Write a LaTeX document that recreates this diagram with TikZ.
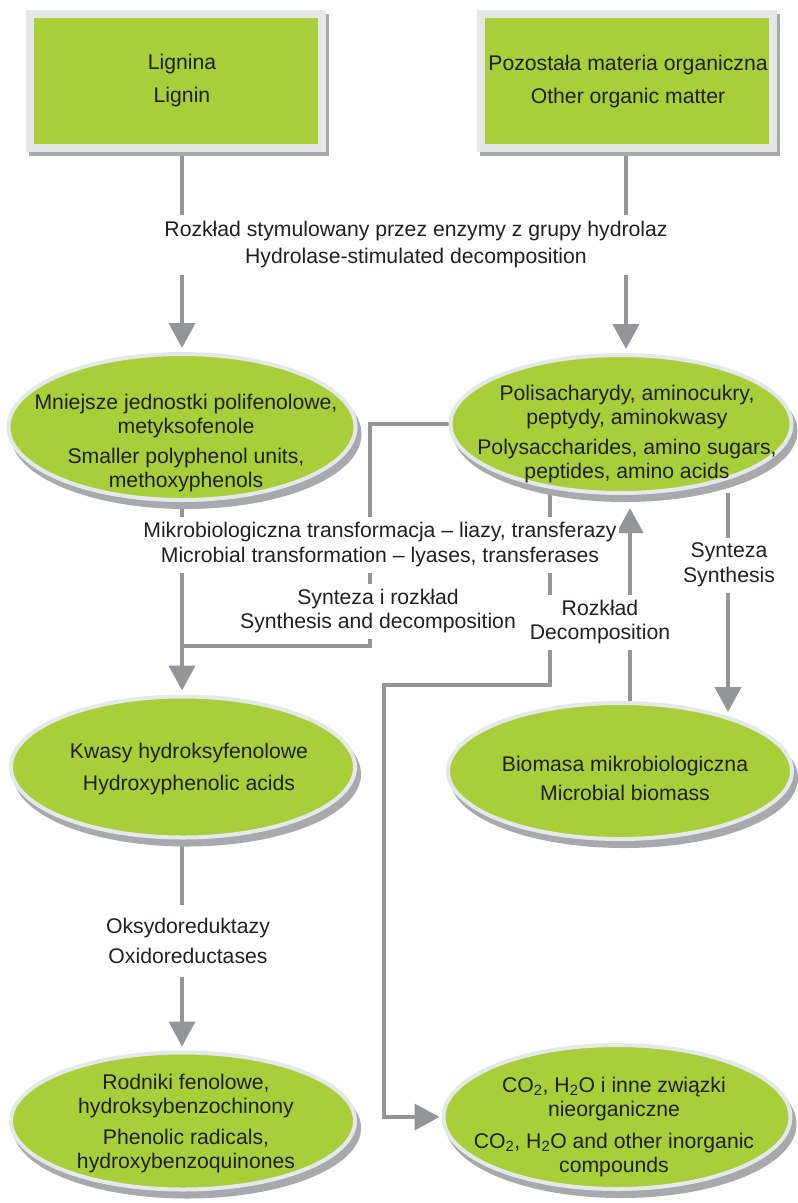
\documentclass[tikz,border=0pt]{standalone}
\usepackage{fontspec}
\setmainfont{Liberation Sans}
\usetikzlibrary{arrows.meta,calc,shapes.geometric}
\definecolor{leaf}{HTML}{A8CE3A}
\definecolor{rimgray}{HTML}{E6E7E8}
\definecolor{shadowgray}{HTML}{A7A9AC}
\definecolor{wire}{HTML}{939598}
\definecolor{ink}{HTML}{231F20}
\newcommand\fs{\fontsize{21.2pt}{24pt}\selectfont}
\pgfdeclarelayer{bg}
\pgfsetlayers{bg,main}
\begin{document}
\begin{tikzpicture}[x=1pt,y=-1pt,
  box/.style={rectangle, minimum width=292pt, minimum height=134pt, inner sep=0pt, outer sep=0pt,
    fill=leaf, draw=rimgray, line width=8pt,
    preaction={draw=shadowgray, line width=8pt, transform canvas={shift={(3pt,-4pt)}}}},
  blob/.style={ellipse, minimum width=344pt, inner sep=0pt, outer sep=0pt,
    fill=leaf, draw=rimgray, line width=4pt,
    preaction={fill=shadowgray, draw=shadowgray, line width=4pt, transform canvas={shift={(4pt,-7pt)}}}},
  txt/.style={font=\fs, text=ink, align=center, inner sep=0pt},
  lbl/.style={txt, fill=white, inner xsep=2pt},
  conn/.style={draw=wire, line width=4pt},
  arr/.style={conn, -{Triangle[width=26pt,length=25pt]}, shorten >=#1},
  arr/.default=4pt
]
\useasboundingbox (0,0) rectangle (798,1203);

% boxes
\node[box] (lig) at (176,81) {};
\node[box] (oom) at (627,81) {};
\node[txt] (tlig) at (182,81) {Lignina\\[9pt]Lignin};
\node[txt] (toom) at (628,82) {Pozostała materia organiczna\\[9pt]Other organic matter};

% ellipses
\node[blob, minimum width=347pt, minimum height=146pt] (e1) at (182,427) {};
\node[blob, minimum width=341pt, minimum height=138pt] (e2) at (621,424) {};
\node[blob, minimum height=141pt] (e3) at (183,767) {};
\node[blob, minimum height=136pt] (e4) at (620,771) {};
\node[blob, minimum height=137pt] (e5) at (183,1121) {};
\node[blob, minimum width=347pt, minimum height=144pt] (e6) at (617,1117) {};

\node[txt] (t1) at (186,443) {Mniejsze jednostki polifenolowe,\\metyksofenole\\[6pt]Smaller polyphenol units,\\methoxyphenols};
\node[txt] (t2) at (627,434) {Polisacharydy, aminocukry,\\peptydy, aminokwasy\\[6pt]Polysaccharides, amino sugars,\\peptides, amino acids};
\node[txt] (t3) at (189,769) {Kwasy hydroksyfenolowe\\[8pt]Hydroxyphenolic acids};
\node[txt] (t4) at (625,778) {Biomasa mikrobiologiczna\\[5pt]Microbial biomass};
\node[txt] (t5) at (186,1124) {Rodniki fenolowe,\\hydroksybenzochinony\\[7pt]Phenolic radicals,\\hydroxybenzoquinones};
\node[txt] (t6) at (614,1127) {CO\textsubscript{2}, H\textsubscript{2}O i inne związki\\nieorganiczne\\[8pt]CO\textsubscript{2}, H\textsubscript{2}O and other inorganic\\compounds};

% labels on connectors
\node[lbl, minimum height=60pt] (tHyd) at (416,245) {Rozkład stymulowany przez enzymy z grupy hydrolaz\\[3pt]Hydrolase-stimulated decomposition};
\node[lbl, minimum height=56pt] (tMik) at (380,545) {Mikrobiologiczna transformacja – liazy, transferazy\\[1pt]Microbial transformation – lyases, transferases};
\node[lbl, minimum height=55pt] (tSyn) at (378,611) {Synteza i rozkład\\Synthesis and decomposition};
\node[lbl, minimum height=55pt] (tRoz) at (600,622) {Rozkład\\Decomposition};
\node[lbl, minimum height=55pt] (tSynt) at (729,565) {Synteza\\[1pt]Synthesis};
\node[lbl, minimum height=72pt] (tOks) at (188,941) {Oksydoreduktazy\\[6pt]Oxidoreductases};

% helper coordinates
\coordinate (xL) at (182,0);
\coordinate (xR) at (626,0);
\coordinate (xD) at (550,0);
\coordinate (xU) at (630,0);
\coordinate (xS) at (728,0);
\coordinate (kS) at (370,646);
\coordinate (kD) at (384,685);

\begin{pgfonlayer}{bg}
\fill[white] (0,0) rectangle (798,1203);
\draw[arr=6pt] (lig.south -| xL) -- (e1.north -| xL);
\draw[arr=6pt] (oom.south -| xR) -- (e2.north -| xR);
\draw[arr=6pt] (e1.south -| xL) -- (e3.north -| xL);
\draw[conn] (e2.west) -| (kS) -- (kS -| xL);
\draw[arr=4pt] (e2.south -| xD) -- (xD |- kD) -- (kD) |- (e6.west);
\draw[arr=15pt] (e4.north -| xU) -- (e2.south -| xU);
\draw[arr=0pt] (e2.south -| xS) -- ($(e4.north -| xS)+(0,9)$);
\draw[arr=6pt] (e3.south -| xL) -- (e5.north -| xL);
\end{pgfonlayer}
\end{tikzpicture}
\end{document}
